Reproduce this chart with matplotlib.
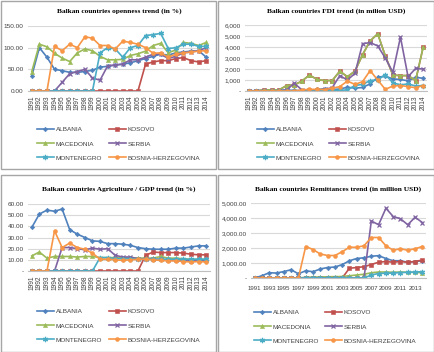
import matplotlib.pyplot as plt
import matplotlib.patches as mpatches
from matplotlib.ticker import FuncFormatter
import numpy as np

plt.rcParams['font.family'] = ['Liberation Sans', 'DejaVu Sans']

nan = np.nan
years = list(range(1991, 2015))
countries = ['ALBANIA', 'KOSOVO', 'MACEDONIA', 'SERBIA', 'MONTENEGRO', 'BOSNIA-HERZEGOVINA']

# --- openness (%) ---
open_alb = [35, 100, 78, 50, 47, 43, 43, 45, 48, 55, 57, 60, 62, 65, 70, 75, 80, 85, 83, 88, 90, 92, 93, 78]
open_kos = [0] * 15 + [62, 67, 70, 70, 75, 77, 70, 67, 70]
open_mac = [45, 108, 102, 87, 76, 68, 88, 97, 93, 80, 72, 72, 73, 82, 86, 92, 105, 110, 88, 95, 112, 110, 105, 112]
open_ser = [nan, nan, nan, 0, 20, 40, 45, 50, 30, 25, 58, 60, 62, 72, 72, 78, 85, 85, 75, 80, 88, 90, 93, 100]
open_mon = [0] * 9 + [88, 100, 97, 78, 100, 105, 128, 130, 133, 98, 100, 108, 108, 103, 103]
open_bos = [0, 0, 0, 103, 93, 108, 100, 125, 122, 105, 105, 97, 115, 112, 108, 100, 87, 88, 78, 85, 88, 90, 92, 93]

# --- FDI (million USD) ---
fdi_alb = [20, 30, 50, 60, 70, 90, 50, 45, 40, 140, 200, 130, 180, 340, 260, 320, 650, 1250, 1350, 1100, 1050, 920, 1250, 1150]
fdi_kos = [0, 0, 100, 100, 100, 500, 550, 900, 1450, 1050, 950, 950, 1800, 1300, 1800, 3300, 4550, 5200, 3200, 1450, 1400, 1400, 950, 4000]
fdi_mac = [0, 0, 100, 100, 100, 500, 550, 900, 1450, 1050, 950, 950, 1800, 1300, 1800, 3300, 4550, 5200, 3200, 1450, 1400, 1400, 950, 4000]
fdi_ser = [0, 0, 0, 0, 0, 100, 700, 100, 100, 50, 150, 300, 1400, 1000, 1600, 4300, 4400, 4100, 3000, 1700, 4900, 1300, 2050, 2000]
fdi_mon = [0, 0, 0, 0, 0, 0, 0, 0, 0, 0, 0, 50, 60, 100, 500, 600, 950, 1000, 1500, 750, 550, 650, 450, 500]
fdi_bos = [0, 0, 0, 0, 0, 0, 0, 100, 150, 150, 130, 250, 400, 900, 600, 850, 1850, 1000, 150, 450, 500, 400, 300, 500]

# --- agriculture / GDP (%) ---
agr_alb = [39, 51, 54.5, 53.5, 55.5, 37, 33, 30, 27, 26.5, 24.5, 24.5, 24, 23, 21, 20, 19.5, 19.5, 19.5, 20.5, 20.5, 21.5, 22.5, 22.5]
agr_kos = [0] * 15 + [14, 17, 16.5, 16.5, 16.5, 16, 15, 14.5, 14.5]
agr_mac = [13.5, 17, 11.5, 13, 13, 13, 12.5, 13, 13, 12, 12, 12, 12, 12, 11.5, 11.5, 11.5, 13, 11.5, 11.5, 11, 10.5, 10.5, 10.5]
agr_ser = [nan, nan, nan, 0, 21, 21, 20, 19, 20.5, 19.5, 20, 14, 12.5, 12.5, 11, 11, 10.5, 10.5, 10, 9.5, 10, 9, 9.5, 9.5]
agr_mon = [0] * 9 + [12, 12, 11, 11, 11, 10.5, 10.5, 10.5, 10.5, 10.5, 10.5, 10.5, 10.5, 10.5, 10.5]
agr_bos = [0, 0, 0, 36, 21, 25, 21, 19.5, 16, 10.5, 10.5, 10, 9.5, 10, 10.5, 10.5, 10, 9.5, 9, 9, 8.5, 8, 8.5, 8]

# --- remittances (million USD) ---
rem_alb = [0, 150, 350, 330, 430, 550, 280, 480, 420, 600, 700, 730, 890, 1150, 1300, 1350, 1450, 1490, 1300, 1150, 1150, 1050, 1100, 1150]
rem_kos = [0] * 13 + [650, 700, 750, 900, 1050, 1100, 1050, 1100, 1050, 1100, 1200]
rem_mac = [0] * 7 + [50, 60, 70, 80, 90, 100, 150, 200, 250, 350, 400, 400, 380, 400, 380, 380, 350]
rem_ser = [0] * 16 + [3800, 3550, 4650, 4100, 3950, 3550, 4050, 3700]
rem_mon = [0] * 16 + [200, 300, 320, 330, 360, 380, 400, 420]
rem_bos = [0] * 7 + [2100, 1900, 1600, 1500, 1500, 1750, 2050, 2050, 2150, 2700, 2700, 2150, 1850, 1950, 1850, 1950, 2100]

colors = ['#4F81BD', '#C0504D', '#9BBB59', '#8064A2', '#4BACC6', '#F79646']
markers = ['D', 's', '^', 'x', (6, 2, 0), 'o']
msizes = [2.3, 2.8, 3.0, 3.2, 3.8, 2.8]

W, H = 435, 352
fig = plt.figure(figsize=(W / 100, H / 100), dpi=100)


def px_rect(l, t, r, b):
    return [l / W, 1 - b / H, (r - l) / W, (b - t) / H]


# panel frames
for (l, t, r, b) in [(0.5, 0.5, 216, 169), (218, 0.5, 434.5, 169), (0.5, 175, 216, 351.5), (218, 175, 434.5, 351.5)]:
    fig.patches.append(mpatches.Rectangle((l / W, 1 - b / H), (r - l) / W, (b - t) / H,
                                          transform=fig.transFigure, fill=False,
                                          edgecolor='#A6A6A6', linewidth=1.0))


def fmt_dec(v, pos):
    return '%.2f' % v


def fmt_dash_dec(v, pos):
    return '-' if v == 0 else '{:,.2f}'.format(v)


def fmt_dash_int(v, pos):
    return '-' if v == 0 else '{:,.0f}'.format(v)


def panel(rect, series, title, ymax, ystep, fmt, title_y, leg_cols, leg_top, rotated=True):
    ax = fig.add_axes(px_rect(*rect))
    x = np.arange(len(years))
    for k, s in enumerate(series):
        ax.plot(x, s, color=colors[k], marker=markers[k], ms=msizes[k], lw=1.2,
                mew=0.9 if markers[k] in ('x', (6, 2, 0)) else 0.4, label=countries[k])
    ax.set_xlim(-0.5, len(years) - 0.5)
    ax.set_ylim(0, ymax)
    ax.set_yticks(np.arange(0, ymax + ystep / 2, ystep))
    ax.yaxis.set_major_formatter(FuncFormatter(fmt))
    ax.grid(axis='y', color='#D9D9D9', lw=0.8)
    ax.set_axisbelow(True)
    for side in ['top', 'right', 'left']:
        ax.spines[side].set_visible(False)
    ax.spines['bottom'].set_color('#BFBFBF')
    ax.tick_params(axis='y', length=0, labelsize=4.6, labelcolor='#404040', pad=3)
    if rotated:
        ax.set_xticks(x)
        ax.set_xticklabels([str(y) for y in years], rotation=90, fontsize=4.8, color='#404040')
        ax.tick_params(axis='x', length=0, pad=3)
    else:
        ax.set_xticks(x[::2])
        ax.set_xticklabels([str(y) for y in years[::2]], fontsize=4.4, color='#404040')
        ax.tick_params(axis='x', length=0, pad=6)
    cx = (rect[0] + rect[2]) / 2
    fig.text(cx / W, 1 - title_y / H, title, ha='center', va='center',
             family=['Liberation Serif'], fontweight='bold', fontsize=5.3)
    handles, labels = ax.get_legend_handles_labels()
    for col, idx in enumerate([[0, 2, 4], [1, 3, 5]]):
        fig.legend([handles[i] for i in idx], [labels[i] for i in idx], ncol=1,
                   loc='upper left', bbox_to_anchor=(leg_cols[col] / W, 1 - leg_top / H),
                   frameon=False, fontsize=4.6, handlelength=2.6, handletextpad=0.3,
                   labelspacing=1.35, borderpad=0, borderaxespad=0,
                   labelcolor='#404040')
    return ax


panel((28, 26, 210, 91), [open_alb, open_kos, open_mac, open_ser, open_mon, open_bos],
      'Balkan countries openness trend (in %)', 150, 50, fmt_dec, 11, (37, 109), 127)
panel((245, 25, 427, 91), [fdi_alb, fdi_kos, fdi_mac, fdi_ser, fdi_mon, fdi_bos],
      'Balkan countries FDI trend (in milion USD)', 6000, 1000, fmt_dash_int, 11, (257, 329), 127)
panel((28, 204, 210, 271), [agr_alb, agr_kos, agr_mac, agr_ser, agr_mon, agr_bos],
      'Balkan countries Agriculture / GDP trend (in %)', 60, 10, fmt_dash_dec, 189, (37, 109), 309)
panel((251, 203, 426, 278), [rem_alb, rem_kos, rem_mac, rem_ser, rem_mon, rem_bos],
      'Balkan countries Remittances trend (in million USD)', 5000, 1000, fmt_dash_dec, 189, (254, 325), 310,
      rotated=False)

fig.savefig('out.png', dpi=100)
